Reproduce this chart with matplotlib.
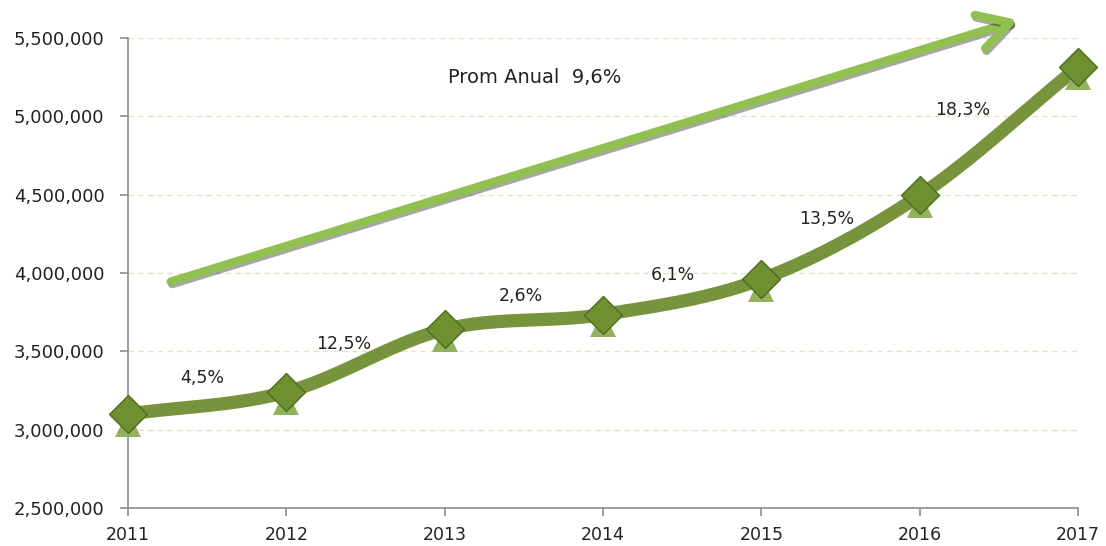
import matplotlib

matplotlib.use("Agg")
import matplotlib.pyplot as plt
import matplotlib.patheffects as pe
import matplotlib.transforms as mtransforms
import numpy as np

plt.rcParams.update({"font.family": "DejaVu Sans", "font.size": 13})

LINE = "#77933C"
MARK = "#6F9030"
MARK_EDGE = "#506C1F"
SHADOW_TRI = "#93B260"
ARROW = "#92C050"
GRID = "#DDE6C6"
AXIS = "#8C8C8C"

years = [2011, 2012, 2013, 2014, 2015, 2016, 2017]
values = [3100000, 3240000, 3640000, 3735000, 3960000, 4495000, 5315000]
growth = ["4,5%", "12,5%", "2,6%", "6,1%", "13,5%", "18,3%"]
# label positions (x, y) for the growth percentages
growth_pos = [(2011.47, 3332000), (2012.36, 3549000), (2013.48, 3856000),
              (2014.44, 3990000), (2015.41, 4347000), (2016.27, 5040000)]
avg_label = "Prom Anual  9,6%"
arrow_start = (2011.27, 3945000)
arrow_end = (2016.62, 5615000)


def catmull_rom(xs, ys, n=40):
    xs = np.asarray(xs, float)
    ys = np.asarray(ys, float)
    px = np.concatenate([[2 * xs[0] - xs[1]], xs, [2 * xs[-1] - xs[-2]]])
    py = np.concatenate([[2 * ys[0] - ys[1]], ys, [2 * ys[-1] - ys[-2]]])
    outx, outy = [], []
    t = np.linspace(0, 1, n)
    for i in range(1, len(px) - 2):
        for p, out in ((px, outx), (py, outy)):
            p0, p1, p2, p3 = p[i - 1], p[i], p[i + 1], p[i + 2]
            out.extend(0.5 * (2 * p1 + (-p0 + p2) * t
                              + (2 * p0 - 5 * p1 + 4 * p2 - p3) * t ** 2
                              + (-p0 + 3 * p1 - 3 * p2 + p3) * t ** 3))
    return np.array(outx), np.array(outy)


fig = plt.figure(figsize=(11.06, 5.46), dpi=100)
ax = fig.add_axes([0.1157, 0.0696, 0.859, 0.8608])

ax.set_xlim(2011, 2017)
ax.set_ylim(2500000, 5500000)
ax.set_xticks(years)
ax.set_yticks(np.arange(2500000, 5500001, 500000))
ax.yaxis.set_major_formatter(matplotlib.ticker.FuncFormatter(lambda v, _: f"{int(v):,}"))
for s in ("top", "right"):
    ax.spines[s].set_visible(False)
for s in ("left", "bottom"):
    ax.spines[s].set_color(AXIS)
    ax.spines[s].set_linewidth(1.2)
ax.tick_params(colors=AXIS, labelcolor="#222222", length=6, width=1.2, labelsize=13)
ax.tick_params(axis="y", pad=11)
ax.tick_params(axis="x", pad=7, labelsize=12.5)
ax.grid(axis="y", color=GRID, linestyle=(0, (4, 3)), linewidth=1)
ax.set_axisbelow(True)

# trend arrow with a soft shadow
ann = ax.annotate("", xy=arrow_end, xytext=arrow_start, annotation_clip=False,
                  arrowprops=dict(arrowstyle="->,head_length=0.8,head_width=0.45",
                                  mutation_scale=28, color=ARROW, lw=6,
                                  shrinkA=0, shrinkB=0))
ann.arrow_patch.set_path_effects([pe.SimpleLineShadow(offset=(1, -1.8), shadow_color="#222222", alpha=0.4),
                                  pe.Normal()])

sx, sy = catmull_rom(years, values)
ax.plot(sx, sy, color=LINE, lw=9.5, solid_capstyle="round", zorder=3)

down = mtransforms.ScaledTranslation(0, -7 / 72, fig.dpi_scale_trans)
ax.plot(years, values, linestyle="none", marker="^", markersize=19, color=SHADOW_TRI,
        markeredgewidth=0, transform=ax.transData + down, zorder=3.5, clip_on=False)
ax.plot(years, values, linestyle="none", marker="D", markersize=19, color=MARK,
        markeredgecolor=MARK_EDGE, markeredgewidth=1, zorder=4, clip_on=False)

for txt, (x, y) in zip(growth, growth_pos):
    ax.text(x, y, txt, ha="center", va="center", fontsize=12.5, color="#222222")
ax.text(2013.57, 5245000, avg_label, ha="center", va="center", fontsize=14, color="#222222")

fig.savefig("out.png", dpi=100)
